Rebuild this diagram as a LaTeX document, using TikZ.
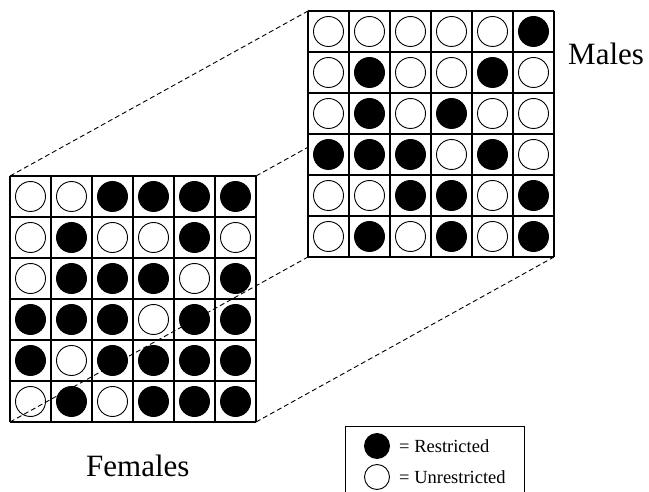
\documentclass[tikz,border=0pt]{standalone}
\usepackage{fontspec}
\setmainfont{Liberation Serif}
\begin{document}
\begin{tikzpicture}[x=1pt,y=-1pt,
  gridline/.style={line width=1.1pt},
  dashline/.style={line width=0.9pt,dash pattern=on 5pt off 3pt},
  fullc/.style={circle,fill=black,draw=black,line width=0.9pt,minimum size=30pt,inner sep=0pt},
  emptyc/.style={circle,fill=white,draw=black,line width=0.9pt,minimum size=30pt,inner sep=0pt},
  legfull/.style={circle,fill=black,draw=black,line width=0.9pt,minimum size=25pt,inner sep=0pt},
  legempty/.style={circle,fill=white,draw=black,line width=0.9pt,minimum size=25pt,inner sep=0pt},
  label/.style={font=\fontsize{31}{31}\selectfont,anchor=base west,inner sep=0pt},
  legtext/.style={font=\fontsize{18.5}{18.5}\selectfont,anchor=base west,inner sep=0pt}]
\useasboundingbox[fill=white] (0,0) rectangle (649,492);
% corners
\coordinate (fTL) at (10,176);
\coordinate (fTR) at (256,176);
\coordinate (fBL) at (10,422);
\coordinate (fBR) at (256,422);
\coordinate (mTL) at (308,11);
\coordinate (mTR) at (554,11);
\coordinate (mBL) at (308,257);
\coordinate (mBR) at (554,257);
% perspective lines behind grids
\draw[dashline] (fTL) -- (mTL);
\draw[dashline] (fTR) -- (mTR);
\draw[dashline] (fBR) -- (mBR);
% male grid
\fill[white] (mTL) rectangle (mBR);
\foreach \k in {0,...,6}{
  \draw[gridline] (308+41*\k,11) -- (308+41*\k,257);
  \draw[gridline] (308,11+41*\k) -- (554,11+41*\k);
}
\foreach \row [count=\r from 0] in {{0,0,0,0,0,1},{0,1,0,0,1,0},{0,1,0,1,0,0},{1,1,1,0,1,0},{0,0,1,1,0,1},{0,1,0,1,0,1}}{
  \foreach \v [count=\c from 0] in \row {
    \ifnum\v=1
      \node[fullc] (m-\r-\c) at (308+20.5+41*\c, 11+20.5+41*\r) {};
    \else
      \node[emptyc] (m-\r-\c) at (308+20.5+41*\c, 11+20.5+41*\r) {};
    \fi
  }
}
% female grid
\fill[white] (fTL) rectangle (fBR);
\foreach \k in {0,...,6}{
  \draw[gridline] (10+41*\k,176) -- (10+41*\k,422);
  \draw[gridline] (10,176+41*\k) -- (256,176+41*\k);
}
\foreach \row [count=\r from 0] in {{0,0,1,1,1,1},{0,1,0,0,1,0},{0,1,1,1,0,1},{1,1,1,0,1,1},{1,0,1,1,1,1},{0,1,0,1,1,1}}{
  \foreach \v [count=\c from 0] in \row {
    \ifnum\v=1
      \node[fullc] (f-\r-\c) at (10+20.5+41*\c, 176+20.5+41*\r) {};
    \else
      \node[emptyc] (f-\r-\c) at (10+20.5+41*\c, 176+20.5+41*\r) {};
    \fi
  }
}
% line seen through the female grid
\draw[dashline] (fBL) -- (mBL);
% labels
\node[label] (males) at (568,65) {Males};
\node[label] (females) at (86,476) {Females};
% legend
\draw[line width=0.9pt] (345,492) -- (345,426) -- (524,426) -- (524,492);
\node[legfull] (lf) at (377,446) {};
\node[legempty] (le) at (377,477) {};
\node[legtext] (lt1) at (399,452) {= Restricted};
\node[legtext] (lt2) at (399,483) {= Unrestricted};
\end{tikzpicture}
\end{document}
